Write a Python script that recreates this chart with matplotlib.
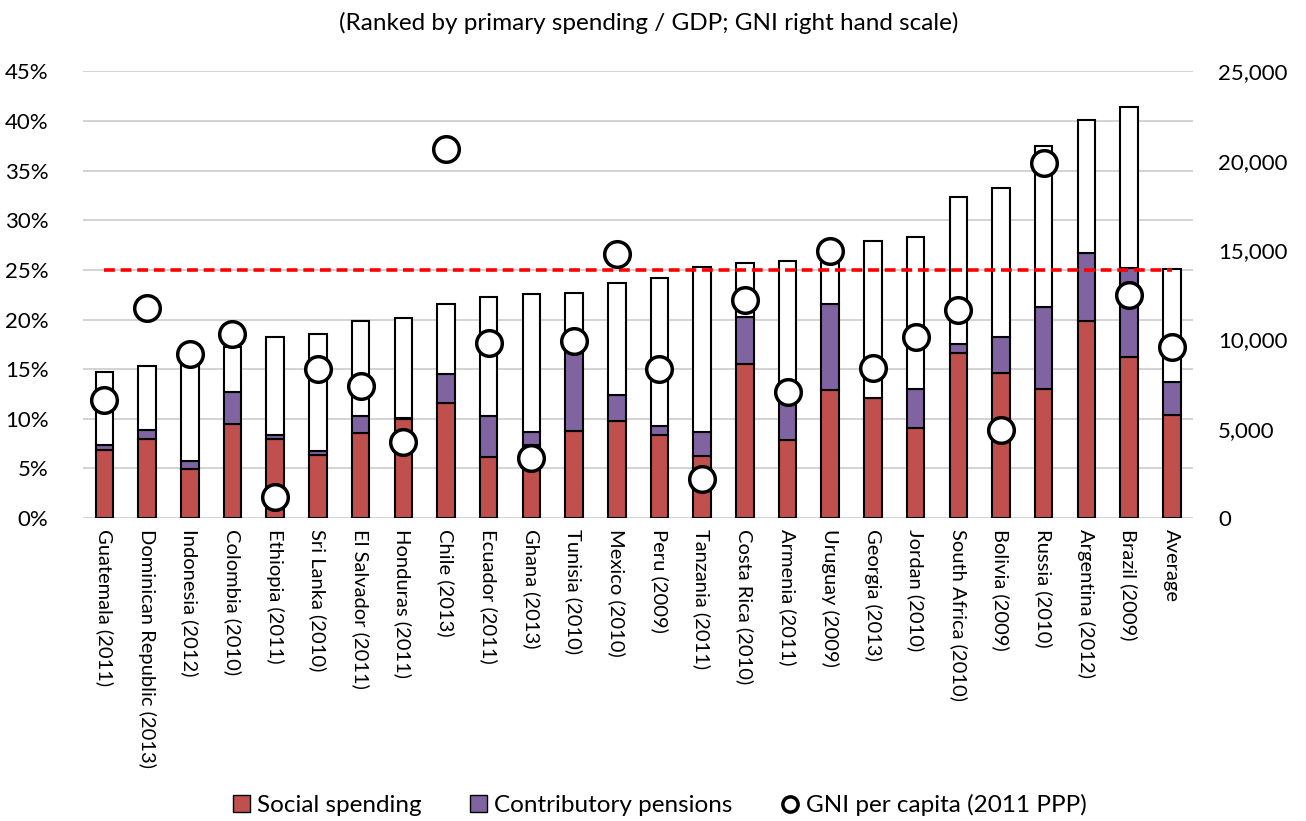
import numpy as np
import matplotlib.pyplot as plt
from matplotlib.lines import Line2D
from matplotlib.patches import Patch
import matplotlib.ticker as mticker

plt.rcParams["font.family"] = ["Lato", "DejaVu Sans"]

countries = [
    "Guatemala (2011)", "Dominican Republic (2013)", "Indonesia (2012)", "Colombia (2010)",
    "Ethiopia (2011)", "Sri Lanka (2010)", "El Salvador (2011)", "Honduras (2011)",
    "Chile (2013)", "Ecuador (2011)", "Ghana (2013)", "Tunisia (2010)", "Mexico (2010)",
    "Peru (2009)", "Tanzania (2011)", "Costa Rica (2010)", "Armenia (2011)", "Uruguay (2009)",
    "Georgia (2013)", "Jordan (2010)", "South Africa (2010)", "Bolivia (2009)",
    "Russia (2010)", "Argentina (2012)", "Brazil (2009)", "Average",
]
# social spending, % of GDP
social = [6.9, 8.0, 4.9, 9.5, 8.0, 6.4, 8.6, 10.0, 11.6, 6.2, 7.4, 8.8, 9.8,
          8.4, 6.3, 15.5, 7.9, 12.9, 12.1, 9.1, 16.6, 14.6, 13.0, 19.9, 16.2, 10.4]
# contributory pensions, % of GDP
pensions = [0.5, 0.9, 0.8, 3.2, 0.4, 0.4, 1.7, 0.1, 2.9, 4.1, 1.3, 8.1, 2.6,
            0.9, 2.4, 4.8, 4.0, 8.7, 0.0, 3.9, 0.9, 3.6, 8.3, 6.8, 9.0, 3.3]
# total primary spending, % of GDP
primary = [14.7, 15.3, 15.8, 17.2, 18.2, 18.5, 19.9, 20.2, 21.6, 22.3, 22.6, 22.7, 23.7,
           24.2, 25.3, 25.7, 25.9, 27.0, 27.9, 28.3, 32.3, 33.3, 37.5, 40.1, 41.4, 25.1]
# GNI per capita, 2011 PPP (None = not shown)
gni = [6590, 11770, 9200, 10290, 1170, 8330, 7390, 4230, 20640, 9810, 3350, 9900, 14760,
       8340, 2210, 12190, 7070, 14930, 8400, 10160, 11620, 4950, 19880, None, 12510, 9570]
avg_primary = 25.0

RED = "#C0504D"
PURPLE = "#8064A2"

x = np.arange(len(countries))
social = np.array(social)
pensions = np.array(pensions)
primary = np.array(primary)
other = primary - social - pensions

fig = plt.figure(figsize=(13.06, 8.21), dpi=100)
ax = fig.add_axes([0.0636, 0.369, 0.850, 0.544])
w = 0.41
ax.bar(x, social, w, color=RED, edgecolor="black", linewidth=1.5, zorder=3)
ax.bar(x, pensions, w, bottom=social, color=PURPLE, edgecolor="black", linewidth=1.5, zorder=3)
ax.bar(x, other, w, bottom=social + pensions, color="white", edgecolor="black", linewidth=1.5, zorder=3)
ax.plot([x[0], x[-1]], [avg_primary, avg_primary], color="#FF0000", lw=2.6,
        dashes=(3, 1.6), zorder=4)

ax.set_xlim(-0.5, len(countries) - 0.5)
ax.set_ylim(0, 45)
ax.yaxis.set_major_locator(mticker.MultipleLocator(5))
ax.yaxis.set_major_formatter(mticker.FuncFormatter(lambda v, p: f"{v:.0f}%"))
ax.grid(axis="y", color="#D0D0D0", lw=1.3, zorder=0)
ax.set_axisbelow(True)
for s in ax.spines.values():
    s.set_visible(False)
ax.tick_params(axis="y", length=0, labelsize=16, pad=25)
ax.set_xticks(x)
ax.set_xticklabels(countries, rotation=270, fontsize=14.5, va="top", ha="center")
ax.tick_params(axis="x", length=0, pad=8)

ax2 = ax.twinx()
ax2.set_ylim(0, 25000)
ax2.yaxis.set_major_locator(mticker.MultipleLocator(5000))
ax2.yaxis.set_major_formatter(mticker.FuncFormatter(lambda v, p: f"{v:,.0f}"))
for s in ax2.spines.values():
    s.set_visible(False)
ax2.tick_params(axis="y", length=0, labelsize=16, pad=18)
gx = [xi for xi, g in zip(x, gni) if g is not None]
gy = [g for g in gni if g is not None]
ax2.scatter(gx, gy, s=340, facecolor="white", edgecolor="black", linewidth=2.5, zorder=5)

fig.text(0.497, 0.972, "(Ranked by primary spending / GDP; GNI right hand scale)",
         ha="center", va="center", fontsize=17.5)

handles = [
    Patch(facecolor=RED, edgecolor="black", label="Social spending"),
    Patch(facecolor=PURPLE, edgecolor="black", label="Contributory pensions"),
    Line2D([], [], marker="o", ls="none", markerfacecolor="white", markeredgecolor="black",
           markeredgewidth=2.5, markersize=11, label="GNI per capita (2011 PPP)"),
]
fig.legend(handles=handles, loc="center", bbox_to_anchor=(0.505, 0.019), ncol=3, frameon=False,
           fontsize=17.5, handlelength=0.7, handleheight=0.7, handletextpad=0.3,
           columnspacing=2.0)

fig.savefig("out.png", dpi=100)
